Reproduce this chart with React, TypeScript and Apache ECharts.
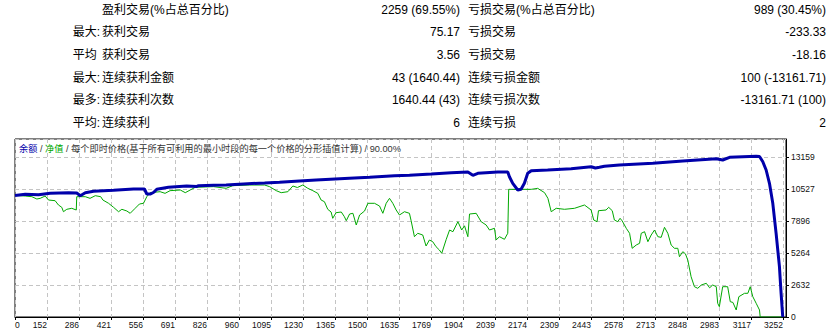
import React, { useEffect, useRef } from 'react';
import * as echarts from 'echarts';

const FONT = '"Liberation Sans", "Noto Sans CJK SC", sans-serif';

// ---- summary table ----
const rowPrefixes = ['', '最大:', '平均 ', '最大:', '最多:', '平均:'];
const leftLabels = ['盈利交易(%占总百分比)', '获利交易', '获利交易', '连续获利金额', '连续获利次数', '连续获利'];
const leftValues = ['2259 (69.55%)', '75.17', '3.56', '43 (1640.44)', '1640.44 (43)', '6'];
const rightLabels = ['亏损交易(%占总百分比)', '亏损交易', '亏损交易', '连续亏损金额', '连续亏损次数', '连续亏损'];
const rightValues = ['989 (30.45%)', '-233.33', '-18.16', '100 (-13161.71)', '-13161.71 (100)', '2'];

// ---- chart ----
const chartTitleBalance = '余额';
const chartTitleEquity = '净值';
const chartTitleRest = '每个即时价格(基于所有可利用的最小时段的每一个价格的分形插值计算) / 90.00%';

const xLabels = ['0', '152', '286', '421', '556', '691', '826', '960', '1095', '1230', '1365', '1500', '1635', '1769', '1904', '2039', '2174', '2309', '2443', '2578', '2713', '2848', '2983', '3117', '3252'];
const yLabels = ['0', '2632', '5264', '7896', '10527', '13159'];

const balanceTrades = [17, 60, 116, 165, 242, 277, 292, 313, 348, 432, 516, 562, 572, 586, 600, 614, 663, 740, 783, 790, 853, 906, 997, 1068, 1131, 1215, 1285, 1425, 1510, 1615, 1678, 1770, 1854, 1924, 1945, 1966, 2050, 2092, 2099, 2113, 2134, 2148, 2162, 2176, 2191, 2260, 2359, 2443, 2461, 2478, 2499, 2562, 2703, 2829, 2970, 2997, 3026, 3138, 3152, 3166, 3180, 3194, 3208, 3222, 3236, 3243, 3250];
const balanceValues = [10000, 10090, 10060, 10170, 10225, 10200, 9976, 10225, 10340, 10420, 10527, 10527, 10115, 10115, 10240, 10500, 10667, 10773, 10740, 10800, 10831, 10856, 10963, 11020, 11078, 11185, 11267, 11406, 11489, 11620, 11653, 11760, 11867, 11925, 11653, 11818, 11925, 11925, 11538, 10995, 10445, 10500, 10995, 11818, 12032, 12089, 12196, 12360, 12250, 12311, 12400, 12500, 12640, 12830, 13019, 12912, 13134, 13216, 13200, 12772, 12089, 10995, 9351, 6883, 4137, 1949, 0];

const equityTrades = [17, 60, 88, 109, 123, 144, 158, 186, 200, 214, 221, 235, 256, 275, 277, 313, 333, 355, 378, 387, 411, 432, 453, 467, 488, 502, 523, 541, 558, 572, 586, 628, 649, 670, 713, 734, 755, 776, 853, 906, 934, 1004, 1068, 1089, 1117, 1138, 1166, 1187, 1206, 1229, 1250, 1271, 1292, 1306, 1320, 1334, 1348, 1355, 1369, 1391, 1404, 1412, 1426, 1440, 1454, 1468, 1489, 1503, 1531, 1552, 1566, 1580, 1594, 1608, 1622, 1636, 1657, 1678, 1685, 1699, 1713, 1734, 1748, 1762, 1776, 1790, 1804, 1814, 1833, 1847, 1861, 1882, 1898, 1910, 1924, 1931, 1959, 1980, 2001, 2015, 2036, 2043, 2057, 2078, 2092, 2096, 2191, 2218, 2247, 2261, 2275, 2296, 2331, 2373, 2415, 2443, 2454, 2468, 2474, 2506, 2517, 2532, 2541, 2555, 2565, 2574, 2591, 2605, 2616, 2633, 2647, 2654, 2668, 2682, 2696, 2710, 2724, 2738, 2752, 2766, 2780, 2794, 2808, 2815, 2829, 2840, 2850, 2864, 2878, 2892, 2907, 2928, 2942, 2955, 2970, 2976, 2983, 2997, 3018, 3029, 3040, 3054, 3065, 3089, 3103, 3113, 3124, 3138, 3152, 3155, 3250];
const equityValues = [10000, 9950, 9894, 9704, 9760, 9950, 9622, 9565, 9211, 9020, 8660, 8857, 8940, 8800, 9894, 9894, 9760, 9976, 9894, 9622, 9351, 9020, 8660, 8857, 8717, 8528, 8940, 9293, 9351, 9894, 10225, 10305, 10170, 10390, 10445, 10225, 10445, 10667, 10720, 10584, 10800, 10856, 10856, 10720, 10390, 10225, 10305, 10773, 10650, 10856, 10585, 10390, 10170, 9622, 9483, 8857, 8635, 8117, 8580, 8635, 8249, 7920, 8470, 8528, 7566, 8388, 8717, 9351, 9351, 9129, 8528, 9351, 9760, 9351, 8800, 8388, 8660, 8528, 7920, 6604, 6883, 6744, 5839, 6332, 6193, 5782, 5510, 5239, 6390, 7155, 7015, 7838, 7155, 7500, 6604, 8470, 8528, 7838, 7566, 7155, 7294, 6332, 6604, 6390, 6883, 10500, 10500, 10580, 10225, 9760, 8660, 8940, 8857, 8940, 9211, 8800, 7977, 7838, 8742, 8800, 9020, 8742, 7977, 7838, 8117, 7900, 7294, 6883, 5650, 5921, 6061, 6883, 7015, 6193, 6744, 7155, 6604, 6550, 7377, 6883, 5921, 5650, 5650, 4959, 5370, 5200, 4688, 3314, 2492, 2360, 2632, 2771, 2400, 2632, 2492, 1127, 847, 2492, 2492, 1258, 1200, 576, 1669, 1949, 1949, 2492, 1669, 1127, 576, 0, 0];

const X_MIN = 17;
const X_STEP = 134.75;
const Y_STEP = 2631.8;

export default function App() {
  const ref = useRef<HTMLDivElement>(null);

  useEffect(() => {
    if (!ref.current) return;
    const chart = echarts.init(ref.current, null, { renderer: 'svg' });

    const gridLeft = 15;
    const gridTop = 139;
    const gridW = 771;
    const gridH = 178;
    const xMax = X_MIN + (gridW / 32) * X_STEP;
    const yMax = (gridH / 32) * Y_STEP;

    const graphics: any[] = [];
    const baseStyle = { font: `12px ${FONT}`, fill: '#000', verticalAlign: 'middle' };
    rowPrefixes.forEach((p, i) => {
      const y = 9.5 + i * 22.7;
      graphics.push({ type: 'text', x: 100, y, style: { ...baseStyle, text: p, align: 'right' } });
      graphics.push({ type: 'text', x: 102, y, style: { ...baseStyle, text: leftLabels[i], align: 'left' } });
      graphics.push({ type: 'text', x: 460, y, style: { ...baseStyle, text: leftValues[i], align: 'right' } });
      graphics.push({ type: 'text', x: 468, y, style: { ...baseStyle, text: rightLabels[i], align: 'left' } });
      graphics.push({ type: 'text', x: 826, y, style: { ...baseStyle, text: rightValues[i], align: 'right' } });
    });

    const axisFont = { fontSize: 8.5, fontFamily: FONT, color: '#111' };

    chart.setOption({
      animation: false,
      backgroundColor: '#fff',
      title: {
        left: 19,
        top: 144,
        padding: 0,
        text: `{b|${chartTitleBalance}} / {g|${chartTitleEquity}} / ${chartTitleRest}`,
        textStyle: {
          fontSize: 9.2,
          fontFamily: FONT,
          fontWeight: 'normal',
          color: '#333',
          rich: {
            b: { fontSize: 9.2, fontFamily: FONT, color: '#0000AA' },
            g: { fontSize: 9.2, fontFamily: FONT, color: '#00A800' },
          },
        },
      },
      graphic: graphics,
      grid: {
        left: gridLeft,
        top: gridTop,
        width: gridW,
        height: gridH,
        show: true,
        borderColor: '#000',
        borderWidth: 1,
        backgroundColor: '#fff',
      },
      xAxis: {
        type: 'value',
        min: X_MIN,
        max: xMax,
        interval: X_STEP,
        axisLine: { show: true, lineStyle: { color: '#000', width: 1 } },
        axisTick: { show: true, length: 3, lineStyle: { color: '#000' } },
        splitLine: { show: true, lineStyle: { color: '#C4C4C4', type: [4, 3], width: 1 } },
        axisLabel: {
          ...axisFont,
          align: 'right',
          alignMinLabel: 'left',
          margin: 4,
          showMaxLabel: false,
          formatter: (v: number) => {
            const k = Math.round((v - X_MIN) / X_STEP);
            return k >= 0 && k < xLabels.length && Math.abs(v - (X_MIN + k * X_STEP)) < 1 ? xLabels[k] : '';
          },
        },
      },
      yAxis: {
        type: 'value',
        position: 'right',
        min: 0,
        max: yMax,
        interval: Y_STEP,
        axisLine: { show: true, lineStyle: { color: '#000', width: 1 } },
        axisTick: { show: true, length: 3, lineStyle: { color: '#000' } },
        splitLine: { show: true, lineStyle: { color: '#C4C4C4', type: [4, 3], width: 1 } },
        axisLabel: {
          ...axisFont,
          margin: 5,
          showMaxLabel: false,
          formatter: (v: number) => {
            const k = Math.round(v / Y_STEP);
            return k >= 0 && k < yLabels.length && Math.abs(v - k * Y_STEP) < 1 ? yLabels[k] : '';
          },
        },
      },
      series: [
        {
          name: chartTitleEquity,
          type: 'line',
          data: equityTrades.map((t, i) => [t, equityValues[i]]),
          showSymbol: false,
          lineStyle: { color: '#00A800', width: 1 },
          itemStyle: { color: '#00A800' },
          z: 2,
        },
        {
          name: chartTitleBalance,
          type: 'line',
          data: balanceTrades.map((t, i) => [t, balanceValues[i]]),
          showSymbol: false,
          lineStyle: { color: '#0000AA', width: 3 },
          itemStyle: { color: '#0000AA' },
          z: 3,
        },
      ],
    });

    return () => chart.dispose();
  }, []);

  return (
    <div
      ref={ref}
      style={{ position: 'absolute', left: 0, top: 0, width: 839, height: 336, background: '#fff' }}
    />
  );
}
